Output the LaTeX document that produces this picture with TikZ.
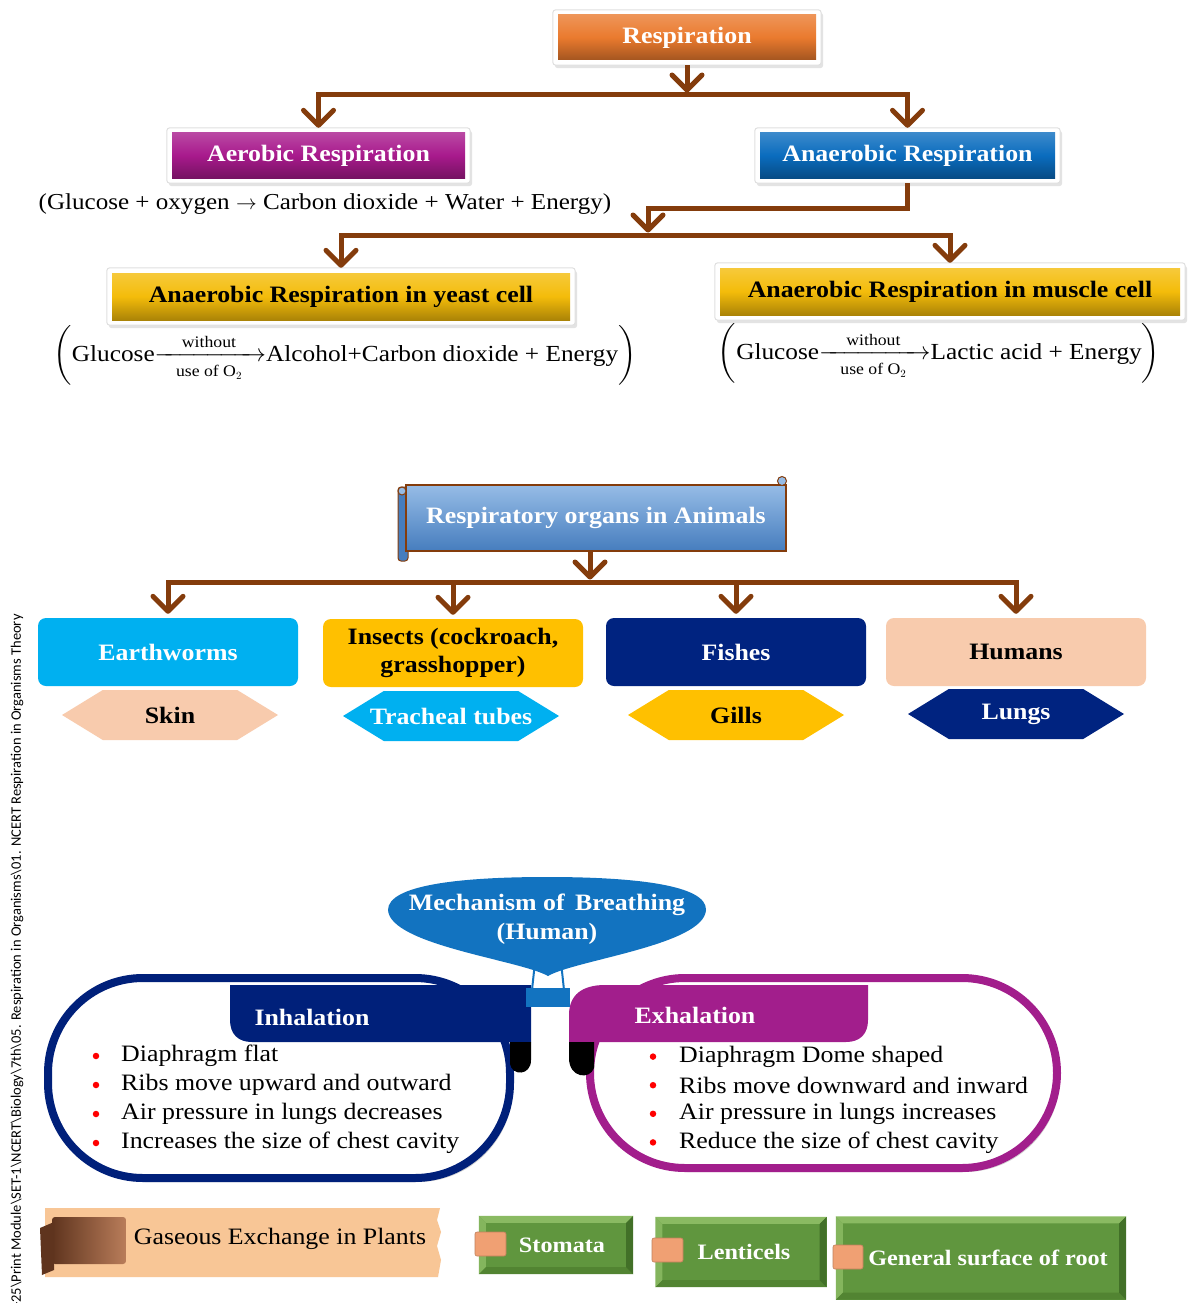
\documentclass[tikz,border=0pt]{standalone}
\usepackage{amsmath}
\usepackage{fontspec}
\setmainfont{Liberation Serif}[FakeStretch=1.1]
\newfontfamily\sidefont{Carlito}
\usetikzlibrary{arrows.meta,shapes.geometric,shapes.symbols,shadows,calc,backgrounds,fit}
\definecolor{arrbrown}{RGB}{132,60,12}
\definecolor{resporange}{RGB}{234,122,46}
\definecolor{aerpurple}{RGB}{168,26,140}
\definecolor{anblue}{RGB}{10,108,190}
\definecolor{cellgold}{RGB}{244,188,10}
\definecolor{scrolltop}{RGB}{150,188,230}
\definecolor{scrollbot}{RGB}{70,125,190}
\definecolor{cyanbox}{RGB}{0,176,240}
\definecolor{amberbox}{RGB}{255,192,0}
\definecolor{navybox}{RGB}{0,35,128}
\definecolor{peachbox}{RGB}{248,203,173}
\definecolor{balloonblue}{RGB}{18,115,192}
\definecolor{inhnavy}{RGB}{0,32,122}
\definecolor{exhmag}{RGB}{162,30,140}
\definecolor{tanbanner}{RGB}{248,198,150}
\definecolor{greenbox}{RGB}{96,150,62}
\definecolor{greenlight}{RGB}{138,186,98}
\definecolor{greendark}{RGB}{66,112,40}
\definecolor{greenmid}{RGB}{82,132,50}
\definecolor{tabpeach}{RGB}{240,160,115}
\definecolor{folddark}{RGB}{95,52,30}
\definecolor{foldlight}{RGB}{185,125,90}
\newcommand{\eqparen}{\vrule height 30pt depth 19pt width 0pt}
\newcommand{\eqarrow}{{\xrightarrow[\hspace{16pt}\text{use of O$_2$}\hspace{16pt}]{\text{without}}}}
\tikzset{
  >={Straight Barb[length=15pt,width=30pt,round]},
  F/.style={font=\fontsize{23.5}{28}\selectfont},
  FB/.style={font=\fontsize{23.5}{28}\selectfont\bfseries},
  hbox/.style={FB, text=white, minimum height=45pt, inner sep=2pt,
    top color=#1!80!white, bottom color=#1!70!black, middle color=#1},
  hframe/.style={fill=white, draw=black!12, line width=1pt, rounded corners=3pt, inner sep=5pt,
    drop shadow={shadow xshift=2pt,shadow yshift=-3pt,opacity=.22}},
  bline/.style={draw=arrbrown, line width=5pt},
  barrow/.style={bline, ->},
  orgbox/.style={FB, minimum width=260pt, minimum height=68pt, rounded corners=8pt, inner sep=2pt, align=center},
  hexa/.style={FB, shape=signal, signal to=west and east, signal pointer angle=63,
    minimum width=216pt, minimum height=50pt, inner sep=0pt},
  itemtxt/.style={F, anchor=west, inner sep=0pt},
  bul/.style={circle, fill=red, inner sep=0pt, minimum size=6.5pt},
  greenb/.style={FB, text=white, fill=greenbox, inner sep=2pt, font=\fontsize{22}{26}\selectfont\bfseries},
  tabp/.style={fill=tabpeach, draw=tabpeach!80!black, line width=0.6pt, rounded corners=2pt}
}
\begin{document}
\begin{tikzpicture}[x=1pt,y=-1pt]
\useasboundingbox (0,0) rectangle (1200,1303);

% ---------- top section
\node[hbox=resporange, minimum width=258pt] (resp) at (687,37.5) {Respiration};
\node[hbox=aerpurple, minimum width=293pt] (aer) at (318.5,155.5) {Aerobic Respiration};
\node[hbox=anblue, minimum width=295pt] (anaer) at (907.5,155.5) {Anaerobic Respiration};
\node[F, font=\fontsize{22.8}{27}\selectfont] (aereq) at (325,204) {(Glucose + oxygen $\rightarrow$ Carbon dioxide + Water + Energy)};
\node[hbox=cellgold, text=black, minimum width=458pt, minimum height=47pt] (yeast) at (341,296.5) {Anaerobic Respiration in yeast cell};
\node[hbox=cellgold, text=black, minimum width=460pt, minimum height=47pt] (muscle) at (950,291.5) {Anaerobic Respiration in muscle cell};
\node[F, font=\fontsize{23}{28}\selectfont] (yeasteq) at (345,355) {$\left(\eqparen\smash{\text{Glucose}\eqarrow\text{Alcohol+Carbon dioxide + Energy}}\right)$};
\node[F, font=\fontsize{23}{28}\selectfont] (muscleeq) at (939,353) {$\left(\eqparen\smash{\text{Glucose}\eqarrow\text{Lactic acid + Energy}}\right)$};

\begin{scope}[on background layer]
  \fill[white] (0,0) rectangle (1200,1303);
  \foreach \n in {resp,aer,anaer,yeast,muscle} \node[hframe, fit=(\n)] (\n frame) {};
\end{scope}

\coordinate (j1) at (687,95);
\coordinate (k1) at (648,208);
\coordinate (j2) at (648,235);
\draw[barrow] ([yshift=-5pt]resp.south) -- ([yshift=2.5pt]j1);
\draw[bline,<->] ([yshift=5pt]aer.north) |- (j1) -| ([yshift=5pt]anaer.north);
\draw[barrow] ([yshift=-5pt]anaer.south) |- (k1) -- ([yshift=2.5pt]j2);
\draw[bline,<->] ([yshift=5pt]yeast.north) |- (j2) -| ([yshift=5pt]muscle.north);

% ---------- respiratory organs
\fill[scrollbot, draw=arrbrown, line width=1pt, rounded corners=3pt] (398,487) rectangle (408,561);
\node[FB, text=white, minimum width=380pt, minimum height=66pt, top color=scrolltop, bottom color=scrollbot, draw=arrbrown, line width=1.2pt] (scroll) at (596,518) {Respiratory organs in Animals};
\draw[arrbrown, line width=1pt, fill=scrolltop] (402,491) circle (4);
\draw[arrbrown, line width=1pt, fill=scrolltop] (782,481) circle (4.5);

\node[orgbox, fill=cyanbox, text=white] (earth) at (168,652) {Earthworms};
\node[orgbox, fill=amberbox, text=black] (insects) at (453,653) {Insects (cockroach,\\grasshopper)};
\node[orgbox, fill=navybox, text=white] (fishes) at (736,652) {Fishes};
\node[orgbox, fill=peachbox, text=black] (humans) at (1016,652) {Humans};

\coordinate (j3) at (590,582);
\draw[barrow] (scroll.south -| j3) -- ([yshift=2.5pt]j3);
\draw[bline,<->] ([yshift=4pt]earth.north) |- (j3) -| ([yshift=4pt]humans.north);
\draw[barrow] (insects.north |- j3) -- ([yshift=4pt]insects.north);
\draw[barrow] (fishes.north |- j3) -- ([yshift=4pt]fishes.north);

\node[hexa, fill=peachbox, text=black] (skin) at (170,715) {\makebox[110pt]{Skin}};
\node[hexa, fill=cyanbox, text=white] (trach) at (451,716) {\makebox[110pt]{Tracheal tubes}};
\node[hexa, fill=amberbox, text=black] (gills) at (736,715) {\makebox[110pt]{Gills}};
\node[hexa, fill=navybox, text=white] (lungs) at (1016,714) {\makebox[110pt]{Lungs}};

% ---------- mechanism of breathing
\draw[inhnavy, line width=8pt, fill=white, rounded corners=95pt,
  drop shadow={shadow xshift=3pt,shadow yshift=-4pt,opacity=.35}] (48,978) rectangle (510,1178);
\draw[exhmag, line width=8pt, fill=white, rounded corners=95pt,
  drop shadow={shadow xshift=3pt,shadow yshift=-4pt,opacity=.35}] (590,978) rectangle (1057,1168);

\fill[inhnavy] (531,985) -- (230,985) -- (230,1020) .. controls (230,1034) and (238,1042) .. (252,1042) -- (531,1042) -- cycle;
\fill[black] (510,1042) -- (531,1042) -- (531,1060) .. controls (531,1076) and (512,1076) .. (510,1064) -- cycle;
\fill[exhmag] (569,1042) -- (569,1015) .. controls (569,995) and (582,985) .. (605,985) -- (868,985) -- (868,1020) .. controls (868,1034) and (860,1042) .. (846,1042) -- cycle;
\fill[black] (594,1042) -- (569,1042) -- (569,1058) .. controls (569,1078) and (590,1080) .. (594,1068) -- cycle;

\node[FB, text=white] (inh) at (312,1017) {Inhalation};
\node[FB, text=white] (exh) at (695,1015) {Exhalation};

\foreach \t [count=\i] in {Diaphragm flat, Ribs move upward and outward, Air pressure in lungs decreases, Increases the size of chest cavity} {
  \node[bul] (ib\i) at (96,1027+29*\i) {};
  \node[itemtxt] (it\i) at (121,1027+29*\i) {\t};
}
\foreach \t [count=\i] in {Diaphragm Dome shaped, Ribs move downward and inward, Air pressure in lungs increases, Reduce the size of chest cavity} {
  \node[bul] (eb\i) at (653,1028+28.6*\i) {};
  \node[itemtxt] (et\i) at (679,1028+28.6*\i) {\t};
}

% balloon
\draw[balloonblue, line width=2pt] (535,962) -- (532,990);
\draw[balloonblue, line width=2pt] (561,962) -- (564,990);
\fill[balloonblue] (526,988) rectangle (570,1007);
\fill[balloonblue] (548,976) .. controls (520,960) and (390,945) .. (388,910) .. controls (388,885) and (460,877) .. (547,877) .. controls (635,877) and (707,885) .. (706,910) .. controls (704,945) and (575,960) .. (548,976) -- cycle;
\node[FB, text=white, align=center, font=\fontsize{23.5}{29}\selectfont\bfseries] (mech) at (547,919) {Mechanism of \,Breathing\\(Human)};

% ---------- plants
\fill[tanbanner] (45,1208) -- (440,1208) -- (437,1220) -- (441,1232) -- (437,1246) -- (441,1260) -- (438,1277) -- (45,1277) -- cycle;
\shade[left color=folddark, right color=foldlight, rounded corners=3pt] (52,1217) rectangle (126,1264);
\fill[folddark] (40,1228) -- (54,1222) -- (54,1270) -- (42,1275) -- cycle;
\node[F] (gas) at (280,1239) {Gaseous Exchange in Plants};

\node[greenb, minimum width=154pt, minimum height=58pt] (stom) at (556,1245) {\hspace{12pt}Stomata};
\node[greenb, minimum width=171pt, minimum height=70pt] (lent) at (741,1252) {\hspace{6pt}Lenticels};
\node[greenb, minimum width=290pt, minimum height=83pt] (root) at (981,1258) {\hspace{14pt}General surface of root};
\foreach \n in {stom,lent,root} {
  \fill[greenlight] (\n.north west) -- (\n.north east) -- ([shift={(-7pt,-7pt)}]\n.north east) -- ([shift={(7pt,-7pt)}]\n.north west) -- cycle;
  \fill[greenlight!85!greenbox] (\n.north west) -- ([shift={(7pt,-7pt)}]\n.north west) -- ([shift={(7pt,7pt)}]\n.south west) -- (\n.south west) -- cycle;
  \fill[greenmid] (\n.south west) -- ([shift={(7pt,7pt)}]\n.south west) -- ([shift={(-7pt,7pt)}]\n.south east) -- (\n.south east) -- cycle;
  \fill[greendark] (\n.north east) -- (\n.south east) -- ([shift={(-7pt,7pt)}]\n.south east) -- ([shift={(-7pt,-7pt)}]\n.north east) -- cycle;
}
\draw[tabp] (475,1232) rectangle (506,1256);
\draw[tabp] (652,1238) rectangle (683,1262);
\draw[tabp] (833,1245) rectangle (863,1269);

% side text
\node[rotate=90, anchor=east, inner sep=0pt, font=\sidefont\fontsize{14.5}{17}\selectfont] (side) at (17,614)
  {-25\textbackslash Print Module\textbackslash SET-1\textbackslash NCERT\textbackslash Biology\textbackslash 7th\textbackslash 05. Respiration in Organisms\textbackslash 01. NCERT Respiration in Organisms Theory};
\end{tikzpicture}
\end{document}
